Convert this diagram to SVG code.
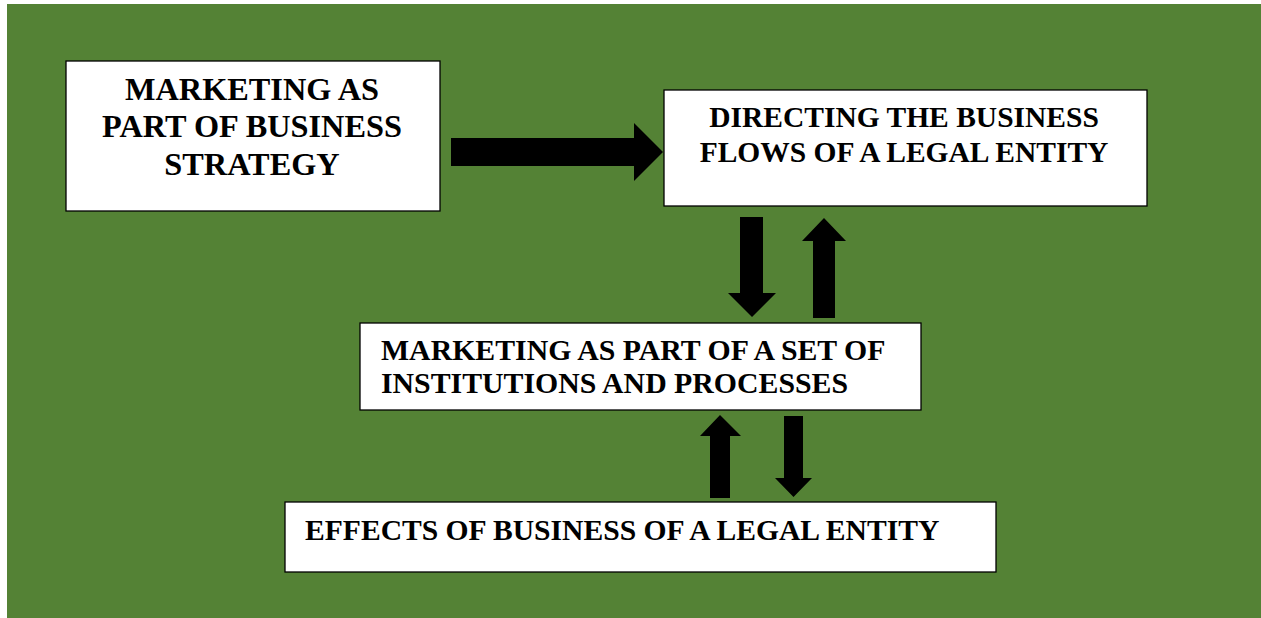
<svg xmlns="http://www.w3.org/2000/svg" width="1261" height="618" viewBox="0 0 1261 618">
<style>
.box{fill:#ffffff;stroke:#000000;stroke-width:1.3}
.t{font-family:"Liberation Serif","Times New Roman",serif;font-weight:bold;fill:#000000}
.arr{fill:#000000}
</style>
<rect x="0" y="0" width="1261" height="618" fill="#ffffff"/>
<rect x="7" y="4" width="1254" height="614" fill="#548235"/>
<g id="node-strategy">
<rect class="box" x="66" y="61" width="374" height="150"/>
<text class="t" font-size="32.3" text-anchor="middle"><tspan x="252" y="100">MARKETING AS</tspan><tspan x="252" y="137">PART OF BUSINESS</tspan><tspan x="252" y="175">STRATEGY</tspan></text>
</g>
<g id="node-directing">
<rect class="box" x="664" y="90" width="483" height="116"/>
<text class="t" font-size="29.5" text-anchor="middle"><tspan x="904" y="127">DIRECTING THE BUSINESS</tspan><tspan x="904" y="162">FLOWS OF A LEGAL ENTITY</tspan></text>
</g>
<g id="node-institutions">
<rect class="box" x="360" y="323" width="561" height="87"/>
<text class="t" font-size="29.8"><tspan x="381" y="360">MARKETING AS PART OF A SET OF</tspan><tspan x="381" y="393">INSTITUTIONS AND PROCESSES</tspan></text>
</g>
<g id="node-effects">
<rect class="box" x="285" y="502" width="711" height="70"/>
<text class="t" font-size="29.6" x="305" y="540">EFFECTS OF BUSINESS OF A LEGAL ENTITY</text>
</g>
<g id="connectors">
<polygon class="arr" points="451,138 634,138 634,123 663,152 634,181 634,166 451,166"/>
<polygon class="arr" points="740,217 763,217 763,293 776,293 752,317 728,293 740,293"/>
<polygon class="arr" points="813,318 835,318 835,241 846,241 824,218 802,241 813,241"/>
<polygon class="arr" points="710,498 730,498 730,436 741,436 720,415 700,436 710,436"/>
<polygon class="arr" points="784,416 803,416 803,478 812,478 793.5,497 775,478 784,478"/>
</g>
</svg>
